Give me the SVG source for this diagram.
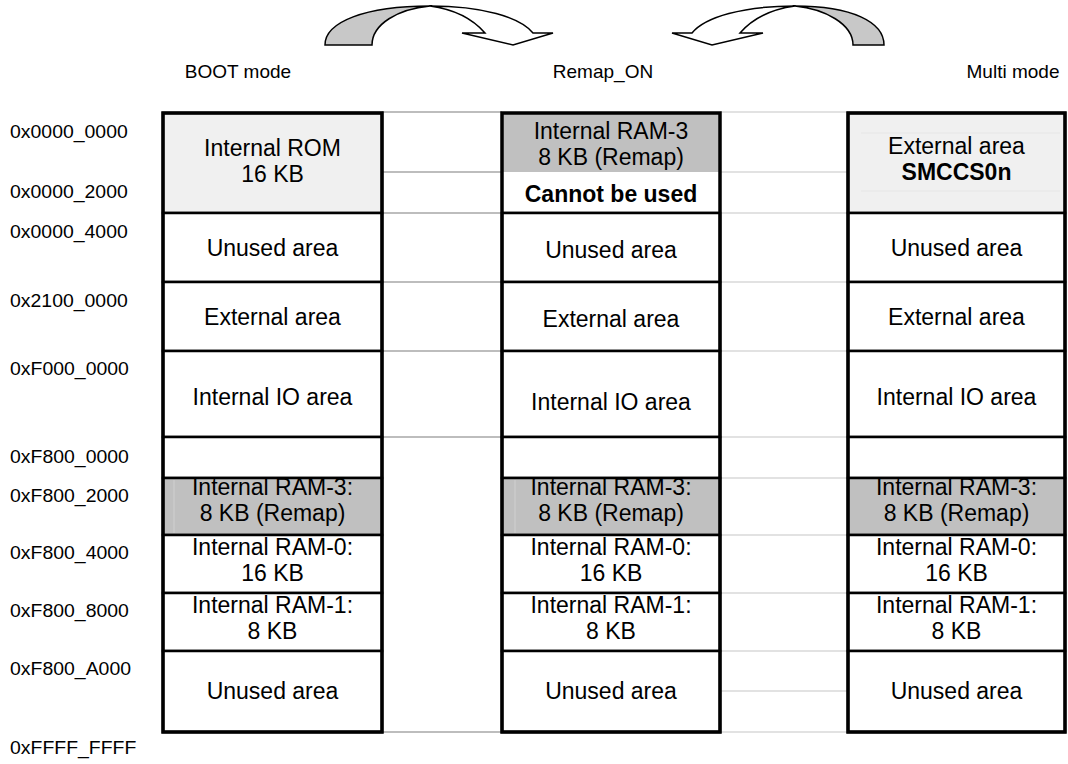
<svg xmlns="http://www.w3.org/2000/svg" width="1068" height="764" viewBox="0 0 1068 764">
  <style>
    text { font-family: "Liberation Sans", Arial, sans-serif; fill: #000; }
    .addr { font-size: 18px; }
    .mode { font-size: 19px; text-anchor: middle; }
    .t { font-size: 23px; text-anchor: middle; }
    .b { font-weight: bold; }
    .cell { fill: #fff; stroke: #000; stroke-width: 2.5; }
    .rom { fill: #f0f0f0; stroke: #000; stroke-width: 2.5; }
    .ram3 { fill: #c0c0c0; stroke: #000; stroke-width: 2.5; }
    .frame { fill: none; stroke: #000; stroke-width: 3.5; }
    .gd { stroke: #a8a8a8; stroke-width: 1.5; fill: none; }
    .gl { stroke: #e2e2e2; stroke-width: 2; fill: none; }
    .arrow { stroke: #000; stroke-width: 1.5; stroke-linejoin: miter; }
    .back { fill: #c8c8c8; }
    .front { fill: #fff; }
  </style>

  <!-- mode labels -->
  <g id="labels">
    <text class="mode" x="238" y="78">BOOT mode</text>
    <text class="mode" x="603" y="78">Remap_ON</text>
    <text class="mode" x="1013" y="78">Multi mode</text>
  </g>

  <!-- address labels -->
  <g id="addresses" transform="scale(1.08,1)">
    <text class="addr" x="9.3" y="138">0x0000_0000</text>
    <text class="addr" x="9.3" y="198">0x0000_2000</text>
    <text class="addr" x="9.3" y="238">0x0000_4000</text>
    <text class="addr" x="9.3" y="307">0x2100_0000</text>
    <text class="addr" x="9.3" y="375">0xF000_0000</text>
    <text class="addr" x="9.3" y="463">0xF800_0000</text>
    <text class="addr" x="9.3" y="502">0xF800_2000</text>
    <text class="addr" x="9.3" y="559">0xF800_4000</text>
    <text class="addr" x="9.3" y="617">0xF800_8000</text>
    <text class="addr" x="9.3" y="675">0xF800_A000</text>
    <text class="addr" x="9.3" y="754">0xFFFF_FFFF</text>
  </g>

  <!-- guide lines between columns -->
  <g id="guides">
    <path class="gd" d="M382,112 H502 M382,172 H502 M382,213 H502 M382,282 H502 M382,351 H502 M382,437 H502 M382,732 H502"/>
    <path class="gl" d="M720,112 H848 M720,172 H848 M720,213 H848 M720,282 H848 M720,351 H848 M720,437 H848 M720,478 H848 M720,535 H848 M720,593 H848 M720,651 H848 M720,691 H848 M720,732 H848"/>
  </g>

  <!-- BOOT mode column -->
  <g id="boot">
    <g id="boot-rom"><rect class="rom" x="163" y="113" width="219" height="100"/>
      <text class="t" x="272.5" y="156">Internal ROM</text><text class="t" x="272.5" y="182">16 KB</text></g>
    <g id="boot-unused1"><rect class="cell" x="163" y="213" width="219" height="69"/>
      <text class="t" x="272.5" y="256">Unused area</text></g>
    <g id="boot-ext"><rect class="cell" x="163" y="282" width="219" height="69"/>
      <text class="t" x="272.5" y="325">External area</text></g>
    <g id="boot-io"><rect class="cell" x="163" y="351" width="219" height="86"/>
      <text class="t" x="272.5" y="405">Internal IO area</text></g>
    <g id="boot-empty"><rect class="cell" x="163" y="437" width="219" height="41"/></g>
    <g id="boot-ram3"><rect class="ram3" x="163" y="478" width="219" height="57"/>
      <line x1="174" y1="480" x2="174" y2="533" stroke="#d0d0d0" stroke-width="1"/>
      <text class="t" x="272.5" y="495">Internal RAM-3:</text><text class="t" x="272.5" y="521">8 KB (Remap)</text></g>
    <g id="boot-ram0"><rect class="cell" x="163" y="535" width="219" height="58"/>
      <text class="t" x="272.5" y="555">Internal RAM-0:</text><text class="t" x="272.5" y="581">16 KB</text></g>
    <g id="boot-ram1"><rect class="cell" x="163" y="593" width="219" height="58"/>
      <text class="t" x="272.5" y="613">Internal RAM-1:</text><text class="t" x="272.5" y="639">8 KB</text></g>
    <g id="boot-unused2"><rect class="cell" x="163" y="651" width="219" height="81"/>
      <text class="t" x="272.5" y="699">Unused area</text></g>
    <rect class="frame" x="163" y="113" width="219" height="619"/>
  </g>

  <!-- Remap_ON column -->
  <g id="remap">
    <g id="remap-ram3top"><rect x="502" y="113" width="218" height="59" fill="#c0c0c0"/>
      <text class="t" x="611" y="139">Internal RAM-3</text><text class="t" x="611" y="165">8 KB (Remap)</text></g>
    <g id="remap-cannot"><line x1="502" y1="213" x2="720" y2="213" stroke="#000" stroke-width="2.5"/>
      <text class="t b" x="611" y="202">Cannot be used</text></g>
    <g id="remap-unused1"><rect class="cell" x="502" y="213" width="218" height="69"/>
      <text class="t" x="611" y="258">Unused area</text></g>
    <g id="remap-ext"><rect class="cell" x="502" y="282" width="218" height="69"/>
      <text class="t" x="611" y="327">External area</text></g>
    <g id="remap-io"><rect class="cell" x="502" y="351" width="218" height="86"/>
      <text class="t" x="611" y="410">Internal IO area</text></g>
    <g id="remap-empty"><rect class="cell" x="502" y="437" width="218" height="41"/></g>
    <g id="remap-ram3"><rect class="ram3" x="502" y="478" width="218" height="57"/>
      <line x1="515" y1="480" x2="515" y2="533" stroke="#d0d0d0" stroke-width="1"/>
      <text class="t" x="611" y="495">Internal RAM-3:</text><text class="t" x="611" y="521">8 KB (Remap)</text></g>
    <g id="remap-ram0"><rect class="cell" x="502" y="535" width="218" height="58"/>
      <text class="t" x="611" y="555">Internal RAM-0:</text><text class="t" x="611" y="581">16 KB</text></g>
    <g id="remap-ram1"><rect class="cell" x="502" y="593" width="218" height="58"/>
      <text class="t" x="611" y="613">Internal RAM-1:</text><text class="t" x="611" y="639">8 KB</text></g>
    <g id="remap-unused2"><rect class="cell" x="502" y="651" width="218" height="81"/>
      <text class="t" x="611" y="699">Unused area</text></g>
    <rect class="frame" x="502" y="113" width="218" height="619"/>
  </g>

  <!-- Multi mode column -->
  <g id="multi">
    <g id="multi-ext0"><rect class="rom" x="848" y="113" width="217" height="100"/>
      <path d="M861,133 H1060 M861,191 H1060" stroke="#e6e6e6" stroke-width="1"/>
      <text class="t" x="956.5" y="154">External area</text><text class="t b" x="956.5" y="180">SMCCS0n</text></g>
    <g id="multi-unused1"><rect class="cell" x="848" y="213" width="217" height="69"/>
      <text class="t" x="956.5" y="256">Unused area</text></g>
    <g id="multi-ext"><rect class="cell" x="848" y="282" width="217" height="69"/>
      <text class="t" x="956.5" y="325">External area</text></g>
    <g id="multi-io"><rect class="cell" x="848" y="351" width="217" height="86"/>
      <text class="t" x="956.5" y="405">Internal IO area</text></g>
    <g id="multi-empty"><rect class="cell" x="848" y="437" width="217" height="41"/></g>
    <g id="multi-ram3"><rect class="ram3" x="848" y="478" width="217" height="57"/>
      <text class="t" x="956.5" y="495">Internal RAM-3:</text><text class="t" x="956.5" y="521">8 KB (Remap)</text></g>
    <g id="multi-ram0"><rect class="cell" x="848" y="535" width="217" height="58"/>
      <text class="t" x="956.5" y="555">Internal RAM-0:</text><text class="t" x="956.5" y="581">16 KB</text></g>
    <g id="multi-ram1"><rect class="cell" x="848" y="593" width="217" height="58"/>
      <text class="t" x="956.5" y="613">Internal RAM-1:</text><text class="t" x="956.5" y="639">8 KB</text></g>
    <g id="multi-unused2"><rect class="cell" x="848" y="651" width="217" height="81"/>
      <text class="t" x="956.5" y="699">Unused area</text></g>
    <rect class="frame" x="848" y="113" width="217" height="619"/>
  </g>

  <!-- curved arrows -->
  <g id="connectors">
    <g id="arrow-left">
      <path class="arrow back" d="M325,45 C325,22 365,6 430,6 C398,9 372,24 372,45 Z"/>
      <path class="arrow front" d="M430,6 C482,6 520,17 533,33 L553,33 L513,45 L462,33 L485,33 C472,18 452,9 430,6 Z"/>
    </g>
    <g id="arrow-right">
      <path class="arrow back" d="M884,45 C884,22 852,6 795,6 C825,9 853,24 853,45 Z"/>
      <path class="arrow front" d="M795,6 C743,6 705,17 692,33 L672,33 L712,45 L763,33 L740,33 C753,18 773,9 795,6 Z"/>
    </g>
  </g>
</svg>
